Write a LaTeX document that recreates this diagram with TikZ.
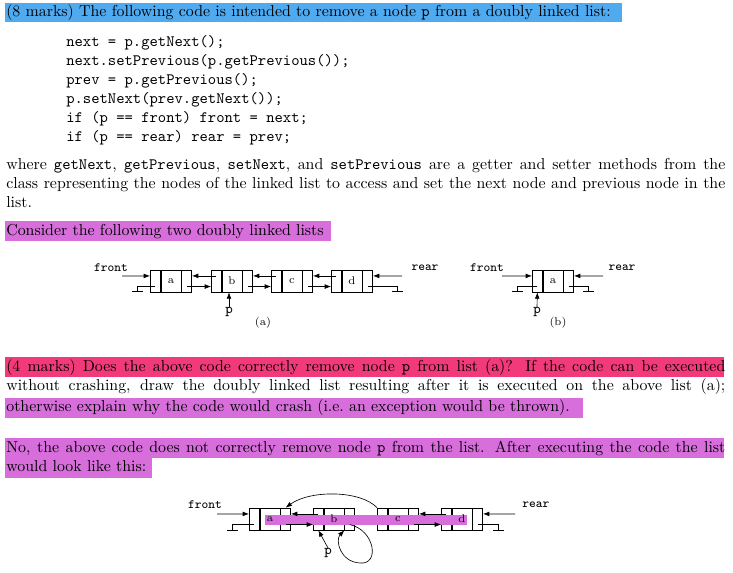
\documentclass[tikz,border=0pt]{standalone}
\usetikzlibrary{arrows.meta,positioning}
\definecolor{hlblue}{RGB}{80,170,240}
\definecolor{hlpink}{RGB}{215,110,220}
\definecolor{hlred}{RGB}{242,58,122}
\tikzset{
  cell/.style={draw, thin, inner sep=0pt, minimum height=13.9pt},
  side/.style={cell, minimum width=6.3pt},
  mid/.style={cell, minimum width=12.6pt, font=\scriptsize},
  ptr/.style={-{Latex[length=4pt,width=3pt]}, thin},
  txt/.style={anchor=base west, inner sep=0pt},
  lbl/.style={font=\ttfamily\footnotesize, inner sep=0pt}
}
% list node: left cell, data cell, right cell
\newcommand{\listnode}[4]{%
  \node[mid] (#1) at (#2,#3) {#4};
  \node[side, left=0pt of #1] (#1-l) {};
  \node[side, right=0pt of #1] (#1-r) {};
}
\newcommand{\fullline}[1]{\makebox[453pt][s]{#1}}
\begin{document}
\begin{tikzpicture}[x=0.63pt, y=-0.63pt]
    \useasboundingbox (0,0) rectangle (733,573);
    \clip (0,0) rectangle (733,573);

    % highlights
    \fill[hlblue] (5,3) rectangle (622,22);
    \fill[hlpink] (5,221) rectangle (331,241);
    \fill[hlred] (5,357) rectangle (724,377);
    \fill[hlpink] (5,398) rectangle (583,418);
    \fill[hlpink] (5,438) rectangle (724,458);
    \fill[hlpink] (5,458) rectangle (152,478);

    % question
    \node[txt] (q1) at (6,17) {(8 marks) The following code is intended to remove a node \texttt{p} from a doubly linked list:};
    \node[txt, font=\ttfamily] (c1) at (66,47) {next = p.getNext();};
    \node[txt, font=\ttfamily] (c2) at (66,66) {next.setPrevious(p.getPrevious());};
    \node[txt, font=\ttfamily] (c3) at (66,85) {prev = p.getPrevious();};
    \node[txt, font=\ttfamily] (c4) at (66,104) {p.setNext(prev.getNext());};
    \node[txt, font=\ttfamily] (c5) at (66,123) {if (p == front) front = next;};
    \node[txt, font=\ttfamily] (c6) at (66,142) {if (p == rear) rear = prev;};
    \node[txt] (w1) at (6,170) {\fullline{where \texttt{getNext}, \texttt{getPrevious}, \texttt{setNext}, and \texttt{setPrevious} are a getter and setter methods from the}};
    \node[txt] (w2) at (6,189) {\fullline{class representing the nodes of the linked list to access and set the next node and previous node in the}};
    \node[txt] (w3) at (6,208) {list.};
    \node[txt] (cons) at (6,236) {Consider the following two doubly linked lists};

    % list (a)
    \listnode{a}{171}{281}{a}
    \listnode{b}{232}{281}{b}
    \listnode{c}{292}{281}{c}
    \listnode{d}{352}{281}{d}
    \node[lbl] (fa) at (111,268) {front};
    \node[lbl] (ra) at (425,268) {rear};
    \coordinate (fa0) at (122,276);
    \coordinate (ra0) at (402,276);
    \draw[ptr] (fa0) -- ([yshift=3.2pt]a-l.west);
    \draw[ptr] (ra0) -- ([yshift=3.2pt]d-r.east);
    \draw[ptr] ([yshift=3.2pt]b-l.center) -- ([yshift=3.2pt]a-r.east);
    \draw[ptr] ([yshift=3.2pt]c-l.center) -- ([yshift=3.2pt]b-r.east);
    \draw[ptr] ([yshift=3.2pt]d-l.center) -- ([yshift=3.2pt]c-r.east);
    \draw[ptr] ([yshift=-3.5pt]a-r.center) -- ([yshift=-3.5pt]b-l.west);
    \draw[ptr] ([yshift=-3.5pt]b-r.center) -- ([yshift=-3.5pt]c-l.west);
    \draw[ptr] ([yshift=-3.5pt]c-r.center) -- ([yshift=-3.5pt]d-l.west);
    \draw[thin] ([yshift=-3.5pt]a-l.center) -| (137,291) (132,291) -- (143,291);
    \draw[thin] ([yshift=-3.5pt]d-r.center) -| (397,291) (392,291) -- (403,291);
    \node[lbl, font=\ttfamily\small] (pa) at (229,312) {p};
    \draw[ptr] (pa.north) -- (b.south -| pa.north);
    \node[font=\scriptsize] (capa) at (263,323) {(a)};

    % list (b)
    \listnode{s}{553}{281}{a}
    \node[lbl] (fb) at (487,268) {front};
    \node[lbl] (rb) at (622,268) {rear};
    \coordinate (fb0) at (502,276);
    \coordinate (rb0) at (603,276);
    \draw[ptr] (fb0) -- ([yshift=3.2pt]s-l.west);
    \draw[ptr] (rb0) -- ([yshift=3.2pt]s-r.east);
    \draw[thin] ([yshift=-3.5pt]s-l.center) -| (517,291) (512,291) -- (523,291);
    \draw[thin] ([yshift=-3.5pt]s-r.center) -| (588,291) (583,291) -- (594,291);
    \node[lbl, font=\ttfamily\small] (pb) at (537,312) {p};
    \draw[ptr] (pb.north) -- (s-l.south);
    \node[font=\scriptsize] (capb) at (558,323) {(b)};

    % part 2
    \node[txt] (r1) at (6,372) {\fullline{(4 marks) Does the above code correctly remove node \texttt{p} from list (a)? If the code can be executed}};
    \node[txt] (r2) at (6,391) {\fullline{without crashing, draw the doubly linked list resulting after it is executed on the above list (a);}};
    \node[txt] (r3) at (6,412) {otherwise explain why the code would crash (i.e.\ an exception would be thrown).};
    \node[txt] (n1) at (6,453) {\fullline{No, the above code does not correctly remove node \texttt{p} from the list. After executing the code the list}};
    \node[txt] (n2) at (6,472) {would look like this:};

    % resulting list
    \listnode{ra}{270}{519}{}
    \listnode{rb}{334}{519}{}
    \listnode{rc}{398}{519}{}
    \listnode{rd}{462}{519}{}
    \fill[hlpink] (265,515) rectangle (467,525);
    \node[font=\scriptsize] at (ra) {a};
    \node[font=\scriptsize] at (rb) {b};
    \node[font=\scriptsize] at (rc) {c};
    \node[font=\scriptsize] at (rd) {d};
    \node[lbl] (fr) at (205,505) {front};
    \node[lbl, anchor=west] (rr) at (522,505) {rear};
    \coordinate (fr0) at (217,514);
    \coordinate (rr0) at (515,514);
    \draw[ptr] (fr0) -- ([yshift=3.2pt]ra-l.west);
    \draw[ptr] (rr0) -- ([yshift=3.2pt]rd-r.east);
    \draw[ptr] ([yshift=3.2pt]rb-l.center) -- ([yshift=3.2pt]ra-r.east);
    \draw[ptr] ([yshift=3.2pt]rd-l.center) -- ([yshift=3.2pt]rc-r.east);
    \draw[ptr] ([yshift=-3.5pt]ra-r.center) -- ([yshift=-3.5pt]rb-l.west);
    \draw[ptr] ([yshift=-3.5pt]rc-r.center) -- ([yshift=-3.5pt]rd-l.west);
    \draw[ptr] (rc-l.north west) .. controls (360,490) and (310,490) .. (ra-r.north);
    \draw[ptr] ([yshift=-3.5pt]rb-r.center) .. controls (375,530) and (380,565) .. (360,563)
      .. controls (340,562) and (335,540) .. (rb-r.south west);
    \draw[thin] ([yshift=-3.5pt]ra-l.center) -| (232,530) (227,530) -- (238,530);
    \draw[thin] ([yshift=-3.5pt]rd-r.center) -| (498,530) (493,530) -- (504,530);
    \node[lbl, font=\ttfamily\small] (pr) at (328,553) {p};
    \draw[ptr] (pr.north) -- (rb-l.south);
\end{tikzpicture}
\end{document}
